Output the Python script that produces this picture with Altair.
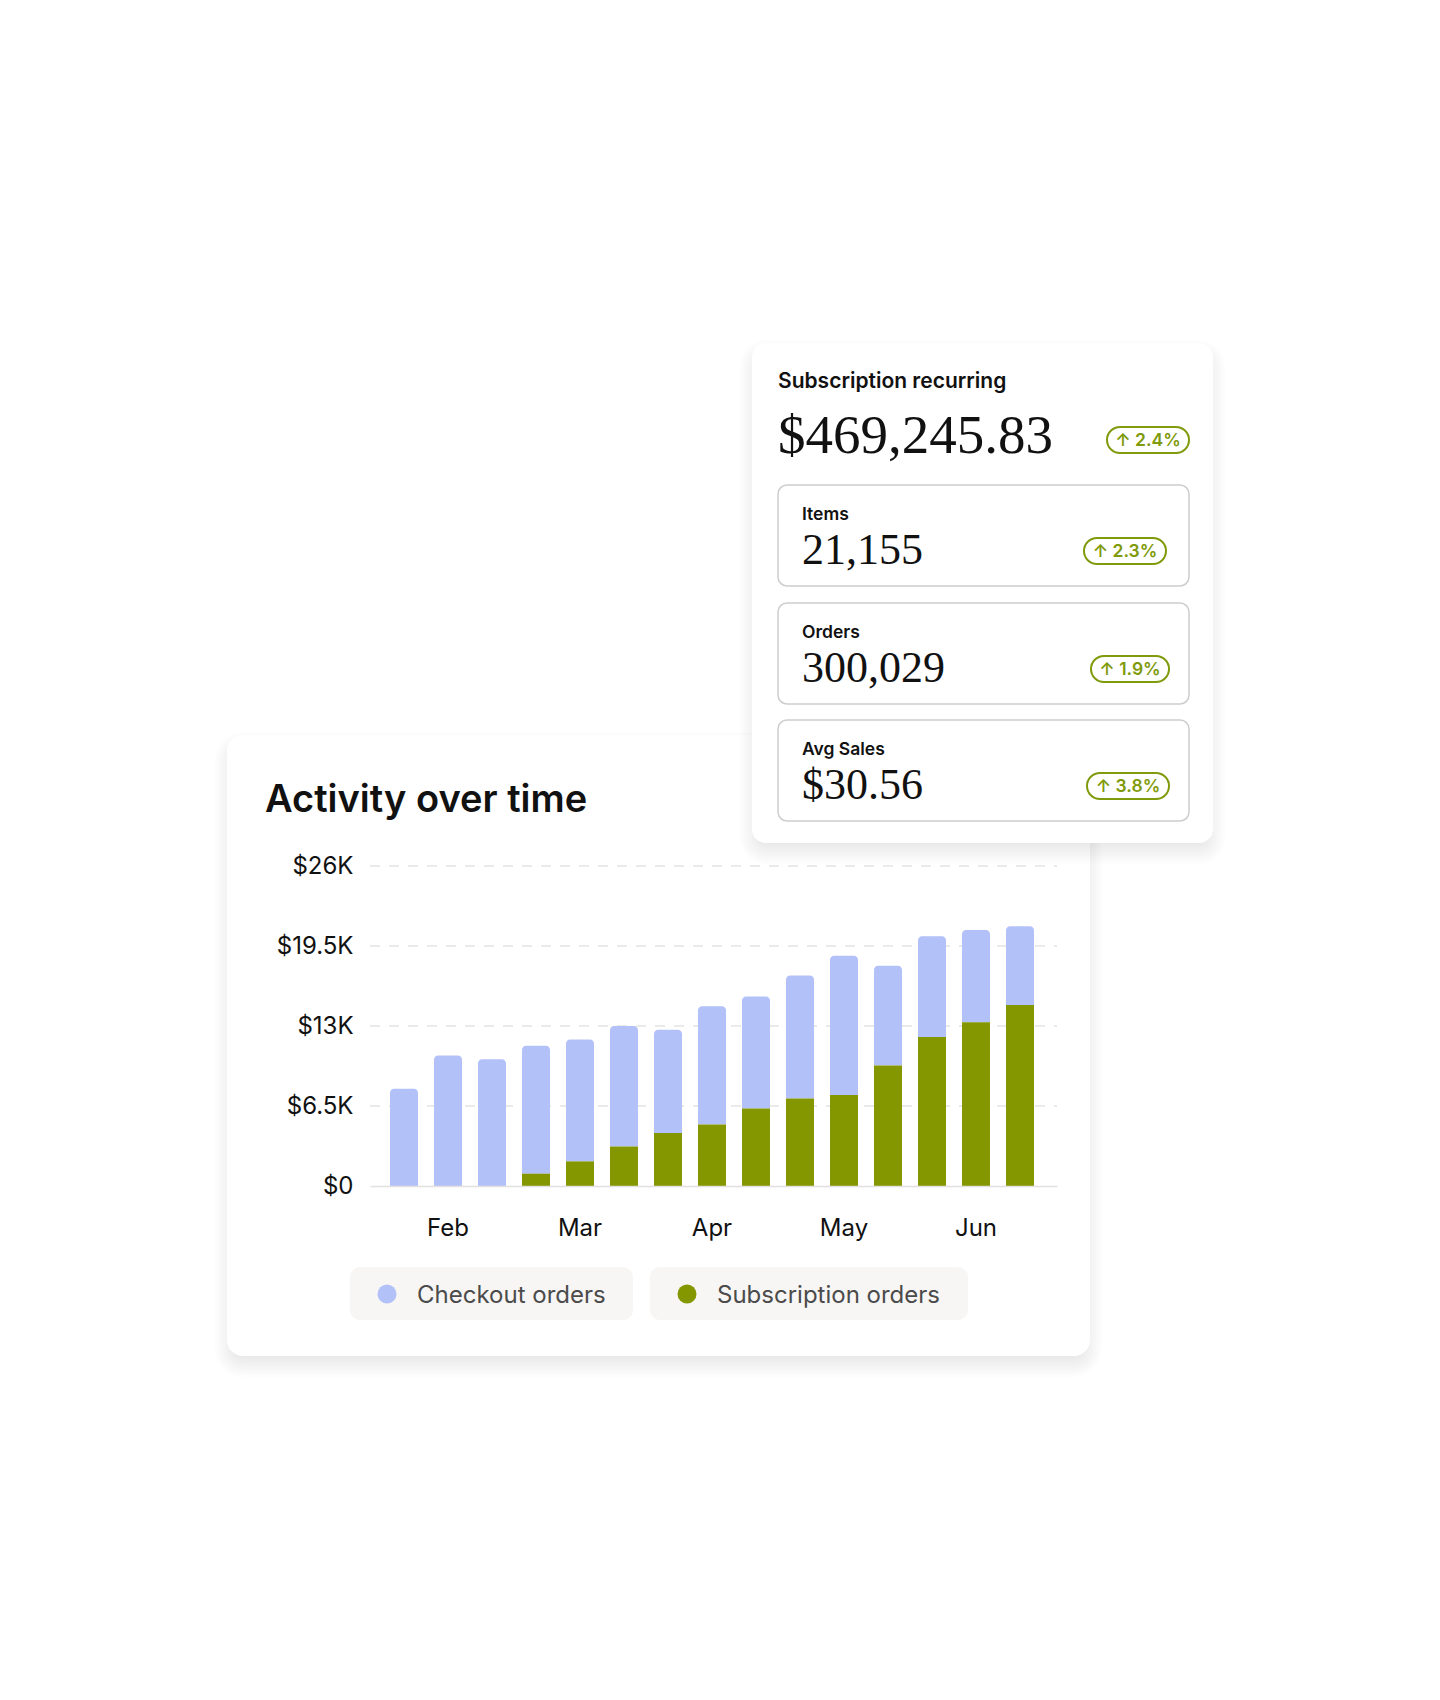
import altair as alt
import pandas as pd

# ---------------- data ----------------
periods = ["Jan 21", "Feb 1", "Feb 11", "Feb 21", "Mar 1", "Mar 11", "Mar 21",
           "Apr 1", "Apr 11", "Apr 21", "May 1", "May 11", "May 21", "Jun 1", "Jun 11"]
subscription_orders = [0, 0, 0, 1000, 2000, 3200, 4300, 5000, 6300, 7100, 7400,
                       9800, 12100, 13300, 14700]
checkout_orders = [7900, 10600, 10300, 10400, 9900, 9800, 8400, 9600, 9100, 10000,
                   11300, 8100, 8200, 7500, 6400]
x_tick_values = ["Feb 1", "Mar 1", "Apr 1", "May 1", "Jun 1"]
x_tick_labels = ["Feb", "Mar", "Apr", "May", "Jun"]
y_tick_values = [0, 6500, 13000, 19500, 26000]
y_tick_labels = ["$0", "$6.5K", "$13K", "$19.5K", "$26K"]
series_names = ["Checkout orders", "Subscription orders"]
series_colors = ["#b3c1f9", "#859700"]

chart_title = "Activity over time"
headline_label = "Subscription recurring"
headline_value = "$469,245.83"
headline_change = "2.4%"
metric_labels = ["Items", "Orders", "Avg Sales"]
metric_values = ["21,155", "300,029", "$30.56"]
metric_changes = ["2.3%", "1.9%", "3.8%"]

# ---------------- layout / style ----------------
OX, OY = 370, 866          # plot origin in page pixels
W, H = 687, 320            # plot area
LIGHT, GREEN = series_colors
BADGE = "#7f9a0a"
INK = "#111111"
FONT = "Inter"
SERIF = "Liberation Serif"

one = pd.DataFrame({"k": [0]})


def rect(x0, y0, x1, y1, **kw):
    return alt.Chart(one).mark_rect(**kw).encode(
        x=alt.value(x0 - OX), x2=alt.value(x1 - OX),
        y=alt.value(y0 - OY), y2=alt.value(y1 - OY))


def text(s, x, y, size, weight=400, font=FONT, color=INK, align="left",
         baseline="alphabetic"):
    return alt.Chart(pd.DataFrame({"t": [s]})).mark_text(
        align=align, baseline=baseline, font=font, fontSize=size,
        fontWeight=weight, color=color).encode(
        x=alt.value(x - OX), y=alt.value(y - OY), text="t:N")


def shadow(x0, y0, x1, y1, r, dy=9, blur=24, alpha=0.08, n=13):
    out = []
    half = blur / 2
    for i in range(n):
        e = half - i * (blur / (n - 1))
        out.append(rect(x0 - e, y0 - e + dy, x1 + e, y1 + e + dy,
                        color="#000000", opacity=alpha / n,
                        cornerRadius=max(0, r + e)))
    return out


def ternary(values, labels, quote):
    expr = "''"
    for v, l in reversed(list(zip(values, labels))):
        lhs = f"'{v}'" if quote else f"{v}"
        expr = f"datum.value == {lhs} ? '{l}' : {expr}"
    return expr


x_expr = ternary(x_tick_values, x_tick_labels, True)
y_expr = ternary(y_tick_values, y_tick_labels, False)

xs = alt.Scale(paddingInner=0.3636, paddingOuter=0.4886, align=0.465)
ys = alt.Scale(domain=[0, 26000], nice=False)

x_axis = alt.Axis(values=x_tick_values, labelExpr=x_expr, labelAngle=0,
                  ticks=False, tickSize=0, domain=True, domainColor="#e4e0e0",
                  domainWidth=1.5, labelPadding=49, labelBaseline="alphabetic",
                  labelFont=FONT, labelFontSize=24, labelColor=INK, grid=False,
                  title=None, zindex=1)
y_axis = alt.Axis(values=y_tick_values, labelExpr=y_expr, ticks=False,
                  tickSize=0, domain=False, grid=False, labelPadding=17,
                  labelFont=FONT, labelFontSize=24, labelColor=INK, title=None,
                  zindex=1, labelBaseline="middle")

df = pd.DataFrame({"period": periods, "subscription": subscription_orders,
                   "checkout": checkout_orders})

grid = alt.Chart(pd.DataFrame({"v": y_tick_values})).transform_filter(
    "datum.v > 0").mark_rule(color="#e3e3e3", strokeWidth=1.5,
                             strokeDash=[10, 9]).encode(
    y=alt.Y("v:Q", scale=ys, axis=y_axis), x=alt.value(0), x2=alt.value(W))

light = alt.Chart(df).transform_calculate(
    total="datum.subscription + datum.checkout").mark_bar(
    color=LIGHT, cornerRadiusTopLeft=4, cornerRadiusTopRight=4).encode(
    x=alt.X("period:N", sort=periods, scale=xs, axis=x_axis),
    y=alt.Y("total:Q", scale=ys, axis=y_axis),
    y2="subscription:Q")

green = alt.Chart(df).mark_bar(color=GREEN).encode(
    x=alt.X("period:N", sort=periods, scale=xs, axis=x_axis),
    y=alt.Y("subscription:Q", scale=ys, axis=y_axis))

layers = []
# chart card
layers += shadow(227, 735, 1090, 1356, 16)
layers.append(rect(227, 735, 1090, 1356, color="#ffffff", cornerRadius=16))
layers += [grid, light, green]
layers.append(text(chart_title, 265, 812, 38, weight=600))

# legend
legend_boxes = [(350, 633), (650, 968)]
for (bx0, bx1), name, col in zip(legend_boxes, series_names, series_colors):
    layers.append(rect(bx0, 1267, bx1, 1320, color="#f7f6f4", cornerRadius=10))
    layers.append(alt.Chart(one).mark_circle(size=361, color=col, opacity=1).encode(
        x=alt.value(bx0 + 37 - OX), y=alt.value(1294 - OY)))
    layers.append(text(name, bx0 + 67, 1303, 24, color="#4b4b4b"))

# metric card
layers += shadow(752, 343, 1213, 843, 14)
layers.append(rect(752, 343, 1213, 843, color="#ffffff", cornerRadius=14))
layers.append(text(headline_label, 778, 388, 21, weight=600))
layers.append(text(headline_value, 778, 453, 55, font=SERIF))
layers.append(rect(1107, 427, 1189, 453, fillOpacity=0, stroke=BADGE,
                   strokeWidth=2, cornerRadius=13))
layers.append(text("\u2191 " + headline_change, 1148, 446, 17.5, weight=600,
                   color=BADGE, align="center"))

box_tops = [485, 603, 720]
badge_x = [(1084, 1166), (1091, 1169), (1087, 1169)]
for top, lab, val, chg, (bx0, bx1) in zip(box_tops, metric_labels, metric_values,
                                          metric_changes, badge_x):
    layers.append(rect(778, top, 1189, top + 101, color="#ffffff",
                       stroke="#cdcdcd", strokeWidth=1.5, cornerRadius=9))
    layers.append(text(lab, 802, top + 35, 17.5, weight=600))
    layers.append(text(val, 802, top + 79, 44, font=SERIF))
    layers.append(rect(bx0, top + 53, bx1, top + 79, fillOpacity=0, stroke=BADGE,
                       strokeWidth=2, cornerRadius=13))
    layers.append(text("\u2191 " + chg, (bx0 + bx1) / 2, top + 72, 17.5,
                       weight=600, color=BADGE, align="center"))

chart = alt.layer(*layers).properties(
    width=W, height=H,
    padding={"left": 362, "top": 858, "right": 1424 - 362 - W,
             "bottom": 1684 - 858 - H},
    autosize=alt.AutoSizeParams(type="none"),
    background="#ffffff",
).configure_view(strokeWidth=0)

chart.save("out.html", embed_options={"renderer": "svg", "actions": False})
